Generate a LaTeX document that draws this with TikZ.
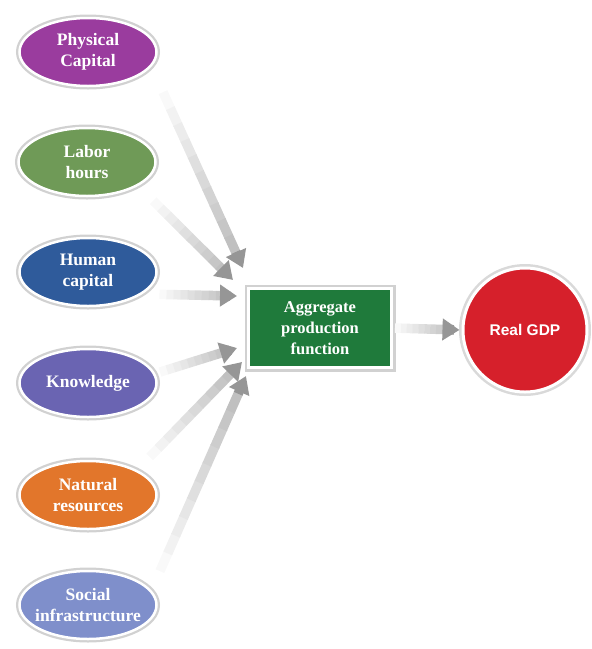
\documentclass[tikz,border=0pt]{standalone}
\usepackage{fontspec}
\setmainfont{Liberation Serif}
\setsansfont{Liberation Sans}
\usetikzlibrary{arrows.meta,calc,shapes.geometric}
\definecolor{cphys}{HTML}{9A3C9E}
\definecolor{clab}{HTML}{6F9A57}
\definecolor{chum}{HTML}{2F5B9B}
\definecolor{cknow}{HTML}{6A64B2}
\definecolor{cnat}{HTML}{E2762B}
\definecolor{csoc}{HTML}{7F8FCB}
\definecolor{cbox}{HTML}{1F7A3B}
\definecolor{cgdp}{HTML}{D6202B}
\definecolor{carr}{HTML}{969696}
\tikzset{
  inp/.style={ellipse, minimum width=137pt, minimum height=68pt, inner sep=0pt,
    draw=white, line width=2.5pt, preaction={draw=black!18, line width=7pt},
    text=white, align=center, font=\fontsize{17.5}{21.5}\selectfont\bfseries},
  aggbox/.style={rectangle, minimum width=143pt, minimum height=79pt, inner sep=0pt,
    draw=white, line width=3pt, preaction={draw=black!18, line width=8pt},
    fill=cbox, text=white, align=center, font=\fontsize{16.5}{21}\selectfont\bfseries},
  outc/.style={circle, minimum size=124pt, inner sep=0pt,
    draw=white, line width=3pt, preaction={draw=black!15, line width=8pt},
    fill=cgdp, text=white, font=\sffamily\fontsize{15.5}{18}\selectfont\bfseries},
}
% #1 start point, #2 end point (coordinates)
\newcommand{\fadearrow}[2]{%
  \foreach \i [evaluate=\i as \c using int(6+\i*6)] in {0,...,9}{%
    \draw[line width=9.5pt, draw=carr!\c] ($#1!\i/11!#2$) -- ($#1!{(\i+1.05)/11}!#2$);
  }%
  \draw[line width=9.5pt, draw=carr, -{Triangle[width=21pt,length=17pt]}] ($#1!10/11!#2$) -- #2;
}
\begin{document}
\begin{tikzpicture}[x=1pt,y=-1pt]
\useasboundingbox (0,0) rectangle (592,649);
\node[inp, fill=cphys] (pc) at (88,52) {Physical\\Capital};
\node[inp, fill=clab] (lh) at (87,162) {Labor\\hours};
\node[inp, fill=chum] (hc) at (88,272) {Human\\capital};
\node[inp, fill=cknow] (kn) at (88,383) {Knowledge};
\node[inp, fill=cnat] (nr) at (88,495) {Natural\\resources};
\node[inp, fill=csoc] (si) at (88,605) {Social\\\makebox[0pt]{infrastructure}};
\node[aggbox] (agg) at (320,328) {Aggregate\\production\\function};
\node[outc] (gdp) at (525,330) {Real GDP};
\coordinate (h1) at (243,268);
\coordinate (h2) at (233,280);
\coordinate (h3) at (237,296);
\coordinate (h4) at (237,348);
\coordinate (h5) at (242,362);
\coordinate (h6) at (246,376);
\fadearrow{($(pc.-13)!28pt!(h1)$)}{(h1)}
\fadearrow{($(lh.-25)!21pt!(h2)$)}{(h2)}
\fadearrow{($(hc.-22)!17pt!(h3)$)}{(h3)}
\fadearrow{($(kn.8)!5pt!(h4)$)}{(h4)}
\fadearrow{($(nr.27)!18pt!(h5)$)}{(h5)}
\fadearrow{($(si.13)!21pt!(h6)$)}{(h6)}
\fadearrow{($(agg.east)!2pt!(gdp.west)$)}{($(gdp.west)!2pt!(agg.east)$)}
\end{tikzpicture}
\end{document}
